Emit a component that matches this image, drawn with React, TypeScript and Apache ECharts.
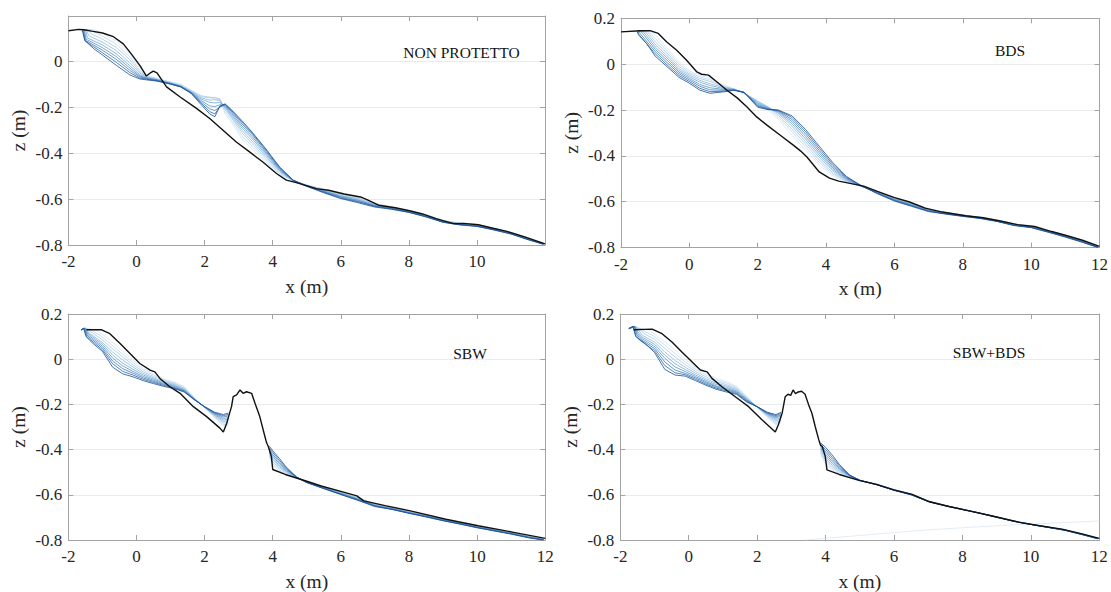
import React, { useEffect, useRef } from "react";
import * as echarts from "echarts";

const SERIF = "Liberation Serif";
const AXIS_COLOR = "#a3a3a3";
const LABEL_COLOR = "#262626";
const GRID_COLOR = "#ebebeb";
const BLACK = "#111111";
const BLUE_SHADES = ["#d3e4f3", "#bdd7ee", "#a4c8e6", "#8ab7dc", "#6fa4d1", "#5590c5", "#3e7bb8", "#2a66a8", "#1a4e94"];
const FAINT = "#d9e7f5";

const PANEL_TITLES = ["NON PROTETTO", "BDS", "SBW", "SBW+BDS"];
const X_TICKS_P1 = [-2, 0, 2, 4, 6, 8, 10];
const X_TICKS = [-2, 0, 2, 4, 6, 8, 10, 12];
const Y_TICKS_P1 = [-0.8, -0.6, -0.4, -0.2, 0];
const Y_TICKS = [-0.8, -0.6, -0.4, -0.2, 0, 0.2];
const Y_MAX = [0.196, 0.2, 0.2, 0.2];

// ---------------- Panel 1: NON PROTETTO ----------------
const P1_BLACK = [
  [-2.0, 0.132], [-1.7, 0.138], [-1.55, 0.136], [-1.32, 0.13], [-1.0, 0.122], [-0.68, 0.106], [-0.39, 0.075],
  [-0.15, 0.03], [0.1, -0.02], [0.29, -0.065], [0.42, -0.05], [0.49, -0.044], [0.6, -0.051], [0.88, -0.112],
  [1.27, -0.155], [1.76, -0.206], [2.15, -0.25], [2.54, -0.301], [2.93, -0.352], [3.32, -0.395], [3.71, -0.439],
  [4.11, -0.489], [4.4, -0.518], [4.69, -0.529], [5.28, -0.555], [5.64, -0.562], [6.1, -0.578], [6.58, -0.591],
  [6.8, -0.605], [7.11, -0.627], [7.6, -0.638], [8.05, -0.652], [8.4, -0.665], [8.8, -0.685], [9.31, -0.707],
  [9.6, -0.706], [10.04, -0.712], [10.5, -0.728], [10.88, -0.741], [11.4, -0.765], [12.0, -0.795],
];
const P1_BLUE_HEADS = [
  [[-1.6, 0.136], [-1.3, 0.137], [-1.15, 0.132]],
  [[-1.6, 0.136], [-1.35, 0.136], [-1.25, 0.127]],
  [[-1.6, 0.136], [-1.42, 0.135], [-1.33, 0.118]],
  [[-1.6, 0.136], [-1.47, 0.134], [-1.4, 0.11]],
  [[-1.6, 0.136], [-1.5, 0.133], [-1.44, 0.1]],
  [[-1.6, 0.135], [-1.53, 0.132], [-1.48, 0.095]],
  [[-1.6, 0.134], [-1.55, 0.13], [-1.5, 0.09]],
  [[-1.6, 0.133], [-1.57, 0.128], [-1.52, 0.088]],
  [[-1.6, 0.132], [-1.58, 0.125], [-1.52, 0.09], [-1.27, 0.055]],
];
const P1_BLUE_X = [-1.0, -0.6, -0.2, 0.1, 0.3, 0.6, 1.0, 1.3, 1.6, 1.9, 2.15, 2.3, 2.45, 2.6, 2.8, 3.1, 3.4, 3.8, 4.2, 4.6, 5.0,
  5.5, 6.0, 6.5, 7.0, 7.5, 8.0, 8.5, 9.0, 9.5, 10.0, 10.5, 11.0, 11.5, 11.95];
const P1_BLUE_Z = [
  [0.12, 0.088, 0.03, -0.03, -0.062, -0.075, -0.09, -0.1, -0.125, -0.15, -0.158, -0.165, -0.17, -0.23, -0.27, -0.338, -0.385, -0.44, -0.492, -0.522, -0.538,
    -0.556, -0.574, -0.59, -0.618, -0.634, -0.648, -0.668, -0.692, -0.704, -0.71, -0.726, -0.744, -0.767, -0.791],
  [0.108, 0.074, 0.018, -0.04, -0.066, -0.077, -0.092, -0.103, -0.128, -0.152, -0.156, -0.16, -0.168, -0.22, -0.26, -0.325, -0.372, -0.432, -0.488, -0.521, -0.539,
    -0.558, -0.578, -0.594, -0.62, -0.634, -0.651, -0.669, -0.694, -0.705, -0.712, -0.727, -0.746, -0.769, -0.792],
  [0.095, 0.06, 0.006, -0.047, -0.069, -0.078, -0.094, -0.106, -0.13, -0.155, -0.16, -0.158, -0.165, -0.21, -0.25, -0.312, -0.36, -0.423, -0.483, -0.52, -0.54,
    -0.561, -0.58, -0.597, -0.623, -0.637, -0.652, -0.672, -0.695, -0.707, -0.712, -0.729, -0.746, -0.771, -0.793],
  [0.082, 0.046, -0.008, -0.053, -0.071, -0.08, -0.095, -0.108, -0.133, -0.16, -0.17, -0.168, -0.172, -0.203, -0.243, -0.302, -0.349, -0.415, -0.479, -0.52, -0.541,
    -0.563, -0.584, -0.6, -0.624, -0.637, -0.654, -0.672, -0.697, -0.707, -0.715, -0.729, -0.748, -0.772, -0.794],
  [0.07, 0.032, -0.02, -0.06, -0.073, -0.081, -0.097, -0.109, -0.135, -0.165, -0.18, -0.182, -0.18, -0.198, -0.236, -0.292, -0.338, -0.407, -0.475, -0.52, -0.542,
    -0.565, -0.586, -0.604, -0.627, -0.639, -0.654, -0.674, -0.697, -0.709, -0.715, -0.731, -0.748, -0.773, -0.795],
  [0.058, 0.02, -0.03, -0.065, -0.075, -0.083, -0.098, -0.11, -0.136, -0.172, -0.195, -0.198, -0.19, -0.194, -0.229, -0.283, -0.329, -0.4, -0.471, -0.519, -0.542,
    -0.566, -0.59, -0.606, -0.628, -0.64, -0.656, -0.674, -0.699, -0.709, -0.717, -0.731, -0.75, -0.774, -0.795],
  [0.047, 0.008, -0.04, -0.069, -0.077, -0.084, -0.099, -0.111, -0.137, -0.178, -0.208, -0.215, -0.2, -0.19, -0.222, -0.274, -0.32, -0.393, -0.467, -0.519, -0.543,
    -0.569, -0.592, -0.61, -0.631, -0.642, -0.656, -0.676, -0.699, -0.711, -0.717, -0.733, -0.75, -0.775, -0.796],
  [0.036, -0.005, -0.05, -0.074, -0.079, -0.086, -0.1, -0.112, -0.139, -0.184, -0.22, -0.23, -0.198, -0.188, -0.217, -0.266, -0.314, -0.387, -0.463, -0.518, -0.544,
    -0.57, -0.596, -0.612, -0.632, -0.643, -0.658, -0.676, -0.701, -0.711, -0.719, -0.733, -0.752, -0.776, -0.796],
  [0.026, -0.018, -0.06, -0.078, -0.082, -0.087, -0.1, -0.113, -0.14, -0.19, -0.23, -0.242, -0.195, -0.186, -0.213, -0.26, -0.31, -0.382, -0.46, -0.518, -0.545,
    -0.573, -0.598, -0.616, -0.635, -0.645, -0.658, -0.678, -0.701, -0.713, -0.719, -0.735, -0.752, -0.777, -0.797],
];

// ---------------- Panel 2: BDS ----------------
const P2_BLACK = [
  [-2.0, 0.141], [-1.44, 0.146], [-1.15, 0.146], [-0.91, 0.134], [-0.66, 0.097], [-0.37, 0.061], [-0.08, 0.017],
  [0.22, -0.034], [0.36, -0.044], [0.56, -0.048], [0.8, -0.077], [1.1, -0.114], [1.39, -0.146], [1.68, -0.186],
  [1.97, -0.23], [2.27, -0.266], [2.66, -0.31], [3.05, -0.354], [3.25, -0.378], [3.44, -0.405], [3.8, -0.47],
  [4.1, -0.497], [4.37, -0.51], [5.1, -0.532], [5.5, -0.555], [6.0, -0.582], [6.42, -0.6], [6.9, -0.628],
  [7.4, -0.645], [8.09, -0.661], [8.6, -0.67], [9.1, -0.684], [9.6, -0.7], [10.1, -0.708], [10.6, -0.73],
  [11.0, -0.746], [11.5, -0.768], [12.0, -0.795],
];
const P2_BLUE_HEADS = [
  [[-1.5, 0.146], [-1.15, 0.146]],
  [[-1.5, 0.146], [-1.2, 0.146]],
  [[-1.5, 0.146], [-1.25, 0.145]],
  [[-1.5, 0.146], [-1.3, 0.144]],
  [[-1.5, 0.146], [-1.35, 0.142]],
  [[-1.5, 0.145], [-1.4, 0.14]],
  [[-1.5, 0.144], [-1.45, 0.135]],
  [[-1.52, 0.143], [-1.48, 0.13]],
  [[-1.52, 0.142], [-1.49, 0.128], [-1.25, 0.09]],
];
const P2_BLUE_X = [-1.0, -0.6, -0.3, 0.0, 0.3, 0.6, 1.0, 1.3, 1.6, 2.0, 2.3, 2.6, 3.0, 3.4, 3.8, 4.2, 4.6, 5.0,
  5.5, 6.0, 6.5, 7.0, 7.5, 8.0, 8.5, 9.0, 9.5, 10.0, 10.5, 11.0, 11.5, 11.95];
const P2_BLUE_Z = [
  [0.128, 0.06, 0.01, -0.03, -0.048, -0.062, -0.09, -0.108, -0.13, -0.168, -0.2, -0.24, -0.31, -0.375, -0.44, -0.487, -0.515, -0.532,
    -0.553, -0.58, -0.603, -0.63, -0.646, -0.658, -0.667, -0.68, -0.696, -0.706, -0.725, -0.745, -0.768, -0.794],
  [0.112, 0.05, 0.0, -0.036, -0.055, -0.068, -0.094, -0.108, -0.128, -0.162, -0.192, -0.23, -0.295, -0.362, -0.428, -0.48, -0.513, -0.532,
    -0.555, -0.583, -0.605, -0.632, -0.647, -0.659, -0.668, -0.681, -0.697, -0.707, -0.726, -0.747, -0.77, -0.795],
  [0.098, 0.04, -0.01, -0.042, -0.062, -0.075, -0.098, -0.108, -0.126, -0.16, -0.186, -0.222, -0.283, -0.35, -0.418, -0.474, -0.51, -0.531,
    -0.556, -0.585, -0.607, -0.633, -0.648, -0.659, -0.669, -0.682, -0.698, -0.709, -0.727, -0.748, -0.771, -0.796],
  [0.086, 0.03, -0.02, -0.048, -0.07, -0.085, -0.102, -0.109, -0.125, -0.165, -0.186, -0.215, -0.27, -0.338, -0.407, -0.466, -0.507, -0.531,
    -0.558, -0.587, -0.61, -0.635, -0.649, -0.66, -0.669, -0.682, -0.699, -0.709, -0.728, -0.749, -0.772, -0.797],
  [0.075, 0.02, -0.028, -0.055, -0.078, -0.093, -0.106, -0.11, -0.124, -0.17, -0.19, -0.21, -0.26, -0.326, -0.397, -0.46, -0.504, -0.53,
    -0.559, -0.589, -0.612, -0.637, -0.65, -0.661, -0.67, -0.683, -0.7, -0.71, -0.729, -0.75, -0.773, -0.797],
  [0.065, 0.01, -0.035, -0.062, -0.088, -0.103, -0.11, -0.111, -0.123, -0.175, -0.193, -0.206, -0.25, -0.315, -0.387, -0.453, -0.5, -0.53,
    -0.56, -0.591, -0.614, -0.638, -0.651, -0.661, -0.671, -0.684, -0.701, -0.711, -0.73, -0.751, -0.774, -0.798],
  [0.055, 0.0, -0.042, -0.069, -0.096, -0.112, -0.114, -0.112, -0.123, -0.18, -0.195, -0.203, -0.241, -0.304, -0.377, -0.446, -0.497, -0.529,
    -0.562, -0.593, -0.616, -0.64, -0.652, -0.662, -0.671, -0.685, -0.702, -0.711, -0.731, -0.752, -0.775, -0.798],
  [0.045, -0.01, -0.05, -0.076, -0.105, -0.12, -0.118, -0.113, -0.122, -0.184, -0.197, -0.201, -0.232, -0.294, -0.367, -0.438, -0.493, -0.528,
    -0.563, -0.595, -0.618, -0.641, -0.653, -0.663, -0.672, -0.685, -0.703, -0.712, -0.732, -0.753, -0.776, -0.799],
  [0.035, -0.018, -0.058, -0.083, -0.113, -0.127, -0.121, -0.114, -0.123, -0.188, -0.198, -0.2, -0.225, -0.285, -0.358, -0.43, -0.49, -0.527,
    -0.565, -0.597, -0.62, -0.643, -0.654, -0.664, -0.673, -0.686, -0.704, -0.713, -0.733, -0.754, -0.777, -0.799],
];

// ---------------- Panel 3: SBW ----------------
const P3_BLACK = [
  [-1.47, 0.13], [-1.02, 0.13], [-0.78, 0.113], [-0.48, 0.069], [-0.19, 0.025], [0.1, -0.019], [0.4, -0.048],
  [0.54, -0.056], [0.69, -0.085], [0.98, -0.122], [1.28, -0.151], [1.67, -0.21], [2.06, -0.254], [2.45, -0.305],
  [2.55, -0.322], [2.65, -0.283], [2.79, -0.21], [2.84, -0.166], [2.94, -0.158], [3.04, -0.136], [3.13, -0.151],
  [3.23, -0.144], [3.38, -0.151], [3.48, -0.195], [3.62, -0.254], [3.77, -0.342], [3.82, -0.37], [3.87, -0.386],
  [3.96, -0.43], [4.0, -0.488], [4.37, -0.51], [5.0, -0.54], [5.42, -0.561], [6.0, -0.585], [6.47, -0.605],
  [6.67, -0.627], [7.3, -0.648], [8.04, -0.671], [9.08, -0.708], [10.03, -0.737], [11.07, -0.766], [12.0, -0.793],
];
const P3_BLUE_HEADS = [
  [[-1.62, 0.13], [-1.45, 0.136], [-1.2, 0.13]],
  [[-1.62, 0.13], [-1.47, 0.136], [-1.28, 0.125]],
  [[-1.62, 0.13], [-1.48, 0.137], [-1.33, 0.12]],
  [[-1.62, 0.13], [-1.5, 0.137], [-1.38, 0.115]],
  [[-1.62, 0.13], [-1.5, 0.138], [-1.4, 0.112]],
  [[-1.62, 0.13], [-1.52, 0.138], [-1.42, 0.108]],
  [[-1.62, 0.13], [-1.53, 0.138], [-1.44, 0.104]],
  [[-1.62, 0.13], [-1.54, 0.137], [-1.46, 0.1]],
  [[-1.62, 0.13], [-1.55, 0.137], [-1.48, 0.1], [-1.27, 0.069]],
];
const P3_LEFT_X = [-1.0, -0.7, -0.4, -0.1, 0.2, 0.5, 0.8, 1.1, 1.4, 1.7, 2.0, 2.3, 2.55, 2.7];
const P3_LEFT_Z = [
  [0.11, 0.075, 0.035, -0.005, -0.04, -0.065, -0.088, -0.1, -0.12, -0.17, -0.215, -0.26, -0.295, -0.29],
  [0.098, 0.06, 0.022, -0.015, -0.048, -0.071, -0.092, -0.104, -0.125, -0.172, -0.214, -0.256, -0.29, -0.285],
  [0.086, 0.046, 0.01, -0.025, -0.056, -0.077, -0.096, -0.108, -0.128, -0.174, -0.213, -0.252, -0.283, -0.28],
  [0.074, 0.032, -0.004, -0.035, -0.063, -0.083, -0.1, -0.112, -0.132, -0.175, -0.213, -0.249, -0.276, -0.272],
  [0.066, 0.018, -0.018, -0.045, -0.07, -0.088, -0.104, -0.116, -0.135, -0.176, -0.212, -0.246, -0.27, -0.265],
  [0.058, 0.005, -0.03, -0.054, -0.077, -0.093, -0.108, -0.12, -0.138, -0.177, -0.212, -0.243, -0.263, -0.258],
  [0.05, -0.008, -0.042, -0.062, -0.083, -0.098, -0.112, -0.124, -0.14, -0.178, -0.211, -0.24, -0.256, -0.25],
  [0.042, -0.02, -0.054, -0.07, -0.089, -0.103, -0.116, -0.127, -0.143, -0.179, -0.21, -0.237, -0.25, -0.244],
  [0.035, -0.035, -0.065, -0.078, -0.095, -0.108, -0.12, -0.13, -0.145, -0.18, -0.21, -0.235, -0.245, -0.238],
];
const P3_RIGHT_X = [3.9, 4.0, 4.2, 4.4, 4.7, 5.0, 5.5, 6.0, 6.5, 7.0, 7.5, 8.0, 8.5, 9.0, 9.5, 10.0, 10.5, 11.0, 11.5, 11.95];
const P3_RIGHT_Z = [
  [-0.43, -0.47, -0.493, -0.507, -0.525, -0.542, -0.565, -0.587, -0.61, -0.64, -0.655, -0.672, -0.69, -0.707, -0.722, -0.738, -0.752, -0.766, -0.782, -0.796],
  [-0.425, -0.463, -0.488, -0.503, -0.525, -0.543, -0.566, -0.589, -0.612, -0.642, -0.657, -0.674, -0.691, -0.708, -0.723, -0.739, -0.753, -0.767, -0.783, -0.797],
  [-0.42, -0.455, -0.482, -0.5, -0.524, -0.543, -0.567, -0.59, -0.614, -0.643, -0.658, -0.675, -0.692, -0.709, -0.724, -0.74, -0.754, -0.768, -0.784, -0.797],
  [-0.415, -0.447, -0.476, -0.497, -0.524, -0.544, -0.568, -0.592, -0.616, -0.645, -0.66, -0.677, -0.693, -0.71, -0.725, -0.741, -0.755, -0.769, -0.785, -0.798],
  [-0.41, -0.438, -0.47, -0.494, -0.523, -0.544, -0.569, -0.593, -0.618, -0.646, -0.661, -0.678, -0.694, -0.711, -0.726, -0.742, -0.756, -0.77, -0.786, -0.798],
  [-0.405, -0.43, -0.463, -0.49, -0.523, -0.545, -0.57, -0.595, -0.62, -0.648, -0.662, -0.679, -0.695, -0.712, -0.727, -0.743, -0.757, -0.771, -0.787, -0.799],
  [-0.4, -0.422, -0.456, -0.486, -0.522, -0.545, -0.571, -0.596, -0.621, -0.649, -0.663, -0.68, -0.696, -0.713, -0.728, -0.744, -0.758, -0.772, -0.788, -0.799],
  [-0.393, -0.413, -0.448, -0.482, -0.522, -0.546, -0.572, -0.598, -0.623, -0.65, -0.664, -0.681, -0.697, -0.714, -0.729, -0.745, -0.759, -0.773, -0.789, -0.8],
  [-0.385, -0.405, -0.44, -0.478, -0.521, -0.546, -0.573, -0.599, -0.625, -0.652, -0.665, -0.682, -0.698, -0.715, -0.73, -0.746, -0.76, -0.774, -0.79, -0.8],
];

// ---------------- Panel 4: SBW+BDS ----------------
const P4_BLACK = [
  [-1.61, 0.13], [-1.3, 0.132], [-1.07, 0.133], [-0.78, 0.113], [-0.49, 0.076], [-0.2, 0.032], [0.1, -0.012],
  [0.34, -0.048], [0.54, -0.056], [0.68, -0.085], [0.97, -0.122], [1.36, -0.166], [1.75, -0.21], [2.14, -0.268],
  [2.53, -0.322], [2.62, -0.29], [2.73, -0.239], [2.82, -0.166], [2.9, -0.155], [2.98, -0.16], [3.05, -0.136],
  [3.12, -0.152], [3.2, -0.145], [3.3, -0.142], [3.4, -0.155], [3.5, -0.2], [3.6, -0.239], [3.7, -0.3],
  [3.8, -0.356], [3.85, -0.38], [3.9, -0.385], [3.99, -0.43], [4.04, -0.49], [4.4, -0.51], [5.0, -0.537],
  [5.49, -0.554], [6.0, -0.578], [6.53, -0.598], [7.06, -0.632], [7.6, -0.652], [8.2, -0.671], [8.9, -0.695],
  [9.66, -0.722], [10.3, -0.738], [10.91, -0.752], [11.5, -0.773], [12.0, -0.793],
];
const P4_BLUE_HEADS = [
  [[-1.75, 0.135], [-1.55, 0.142], [-1.3, 0.132], [-1.15, 0.128]],
  [[-1.75, 0.135], [-1.55, 0.143], [-1.35, 0.13], [-1.25, 0.12]],
  [[-1.75, 0.135], [-1.55, 0.144], [-1.4, 0.128], [-1.3, 0.113]],
  [[-1.75, 0.135], [-1.56, 0.145], [-1.45, 0.125], [-1.35, 0.105]],
  [[-1.75, 0.135], [-1.57, 0.145], [-1.48, 0.12], [-1.38, 0.1]],
  [[-1.75, 0.135], [-1.58, 0.146], [-1.5, 0.115], [-1.4, 0.095]],
  [[-1.75, 0.136], [-1.6, 0.146], [-1.52, 0.11], [-1.42, 0.09]],
  [[-1.75, 0.136], [-1.62, 0.145], [-1.54, 0.105], [-1.44, 0.085]],
  [[-1.75, 0.136], [-1.63, 0.145], [-1.55, 0.1], [-1.27, 0.069]],
];
const P4_LEFT_X = [-1.0, -0.7, -0.4, -0.1, 0.2, 0.5, 0.8, 1.1, 1.4, 1.7, 2.0, 2.3, 2.55, 2.7];
const P4_LEFT_Z = [
  [0.11, 0.078, 0.04, 0.0, -0.035, -0.062, -0.085, -0.098, -0.12, -0.165, -0.212, -0.258, -0.29, -0.28],
  [0.1, 0.063, 0.025, -0.012, -0.045, -0.07, -0.092, -0.105, -0.125, -0.168, -0.212, -0.254, -0.285, -0.276],
  [0.088, 0.048, 0.01, -0.024, -0.054, -0.078, -0.099, -0.112, -0.13, -0.172, -0.212, -0.25, -0.279, -0.27],
  [0.076, 0.032, -0.006, -0.036, -0.062, -0.086, -0.106, -0.118, -0.135, -0.175, -0.212, -0.247, -0.272, -0.264],
  [0.066, 0.018, -0.02, -0.046, -0.07, -0.093, -0.112, -0.124, -0.14, -0.178, -0.211, -0.244, -0.266, -0.258],
  [0.056, 0.004, -0.034, -0.055, -0.077, -0.099, -0.118, -0.13, -0.144, -0.181, -0.211, -0.241, -0.26, -0.251],
  [0.047, -0.012, -0.048, -0.063, -0.083, -0.104, -0.123, -0.135, -0.148, -0.184, -0.21, -0.239, -0.255, -0.246],
  [0.038, -0.028, -0.06, -0.069, -0.089, -0.11, -0.128, -0.14, -0.152, -0.187, -0.21, -0.237, -0.25, -0.24],
  [0.03, -0.045, -0.07, -0.075, -0.095, -0.115, -0.133, -0.145, -0.156, -0.19, -0.21, -0.235, -0.245, -0.235],
];
const P4_RIGHT_X = [3.85, 4.0, 4.2, 4.4, 4.7, 5.0, 5.5, 6.0, 6.5, 7.0, 7.5, 8.0, 8.5, 9.0, 9.5, 10.0, 10.5, 11.0, 11.5, 11.95];
const P4_RIGHT_Z = [
  [-0.42, -0.465, -0.49, -0.505, -0.52, -0.535, -0.553, -0.577, -0.596, -0.626, -0.647, -0.664, -0.68, -0.697, -0.715, -0.729, -0.742, -0.755, -0.774, -0.792],
  [-0.413, -0.456, -0.484, -0.501, -0.519, -0.535, -0.553, -0.577, -0.597, -0.627, -0.647, -0.664, -0.68, -0.697, -0.715, -0.73, -0.742, -0.755, -0.774, -0.792],
  [-0.406, -0.447, -0.477, -0.497, -0.518, -0.535, -0.554, -0.578, -0.597, -0.627, -0.647, -0.664, -0.68, -0.698, -0.716, -0.73, -0.743, -0.756, -0.775, -0.793],
  [-0.399, -0.438, -0.47, -0.492, -0.517, -0.536, -0.554, -0.578, -0.598, -0.628, -0.647, -0.664, -0.681, -0.698, -0.716, -0.73, -0.743, -0.756, -0.775, -0.793],
  [-0.392, -0.429, -0.462, -0.487, -0.516, -0.536, -0.555, -0.579, -0.598, -0.628, -0.648, -0.665, -0.681, -0.698, -0.716, -0.731, -0.743, -0.756, -0.775, -0.793],
  [-0.386, -0.42, -0.454, -0.482, -0.515, -0.536, -0.555, -0.579, -0.599, -0.629, -0.648, -0.665, -0.681, -0.699, -0.717, -0.731, -0.744, -0.757, -0.776, -0.794],
  [-0.381, -0.41, -0.445, -0.477, -0.514, -0.536, -0.555, -0.58, -0.599, -0.629, -0.648, -0.665, -0.681, -0.699, -0.717, -0.731, -0.744, -0.757, -0.776, -0.794],
  [-0.376, -0.4, -0.435, -0.471, -0.513, -0.536, -0.556, -0.58, -0.6, -0.63, -0.648, -0.665, -0.681, -0.699, -0.717, -0.731, -0.744, -0.757, -0.776, -0.794],
  [-0.37, -0.39, -0.425, -0.465, -0.512, -0.536, -0.556, -0.58, -0.6, -0.63, -0.648, -0.665, -0.681, -0.699, -0.717, -0.731, -0.744, -0.757, -0.776, -0.794],
];
const P4_FAINT = [[3.4, -0.8], [5.0, -0.78], [7.0, -0.755], [9.0, -0.737], [10.5, -0.726], [12.0, -0.716]];

// ---------------- layout ----------------
const GRIDS = [
  { left: 68.5, top: 16, width: 476.5, height: 229 },
  { left: 621, top: 18.3, width: 479, height: 229.3 },
  { left: 68.3, top: 314, width: 477, height: 227 },
  { left: 620.3, top: 314, width: 479, height: 227 },
];
const TITLE_POS = [[461.5, 52], [1010, 50], [470, 353], [989, 352]];

function zip(xs: number[], zs: number[]) {
  return xs.map((x, k) => [x, zs[k]]);
}

function buildOption() {
  const grid: any[] = [];
  const xAxis: any[] = [];
  const yAxis: any[] = [];
  const series: any[] = [];
  const graphic: any[] = [];

  const axisLine = { show: true, onZero: false, lineStyle: { color: AXIS_COLOR, width: 1 } };
  const axisTick = { show: true, inside: true, length: 5, lineStyle: { color: AXIS_COLOR, width: 1 } };
  const nameStyle = { color: LABEL_COLOR, fontSize: 19.5, fontFamily: SERIF };

  GRIDS.forEach((g, p) => {
    grid.push({ ...g, show: false });
    const xt = p === 0 ? X_TICKS_P1 : X_TICKS;
    const yt = p === 0 ? Y_TICKS_P1 : Y_TICKS;
    xAxis.push({
      type: "value", gridIndex: p, min: -2, max: 12, interval: 2, position: "bottom",
      axisLine, axisTick,
      axisLabel: {
        color: LABEL_COLOR, fontSize: 17, fontFamily: SERIF, margin: 8,
        formatter: (v: number) => (xt.some((t) => Math.abs(t - v) < 1e-6) ? String(Math.round(v)) : ""),
      },
      splitLine: { show: false },
      name: "x (m)", nameLocation: "middle", nameGap: 31, nameTextStyle: nameStyle,
    });
    xAxis.push({
      type: "value", gridIndex: p, min: -2, max: 12, interval: 2, position: "top",
      axisLine, axisTick, axisLabel: { show: false }, splitLine: { show: false },
    });
    yAxis.push({
      type: "value", gridIndex: p, min: -0.8, max: Y_MAX[p], interval: 0.2, position: "left",
      axisLine, axisTick,
      axisLabel: {
        color: LABEL_COLOR, fontSize: 17, fontFamily: SERIF, margin: 6,
        formatter: (v: number) => {
          const t = yt.find((t) => Math.abs(t - v) < 1e-6);
          return t === undefined ? "" : String(Number(t.toFixed(1)));
        },
      },
      splitLine: { show: true, lineStyle: { color: GRID_COLOR, width: 1 } },
      name: "z (m)", nameLocation: "middle", nameGap: 40, nameTextStyle: nameStyle,
    });
    yAxis.push({
      type: "value", gridIndex: p, min: -0.8, max: Y_MAX[p], interval: 0.2, position: "right",
      axisLine, axisTick, axisLabel: { show: false }, splitLine: { show: false },
    });
    graphic.push({
      type: "text", x: TITLE_POS[p][0], y: TITLE_POS[p][1], silent: true,
      style: { text: PANEL_TITLES[p], fill: "#111", font: `15.5px ${SERIF}`, align: "center", verticalAlign: "middle" },
    });
  });

  const addLine = (p: number, data: any[], color: string, width: number) => {
    series.push({
      type: "line", xAxisIndex: p * 2, yAxisIndex: p * 2, data, symbol: "none", showSymbol: false,
      lineStyle: { color, width }, silent: true, clip: true,
    });
  };

  // panel 1 & 2: continuous blue profiles
  [[P1_BLUE_HEADS, P1_BLUE_X, P1_BLUE_Z], [P2_BLUE_HEADS, P2_BLUE_X, P2_BLUE_Z]].forEach(([heads, xs, zs]: any, p) => {
    zs.forEach((row: number[], i: number) => {
      addLine(p, heads[i].concat(zip(xs, row)), BLUE_SHADES[i], 0.8);
    });
  });
  // panel 3 & 4: profiles broken by the structure
  [
    [P3_BLUE_HEADS, P3_LEFT_X, P3_LEFT_Z, P3_RIGHT_X, P3_RIGHT_Z],
    [P4_BLUE_HEADS, P4_LEFT_X, P4_LEFT_Z, P4_RIGHT_X, P4_RIGHT_Z],
  ].forEach(([heads, lx, lz, rx, rz]: any, k) => {
    const p = k + 2;
    if (p === 3) addLine(p, P4_FAINT, FAINT, 0.8);
    lz.forEach((row: number[], i: number) => {
      addLine(p, heads[i].concat(zip(lx, row)), BLUE_SHADES[i], 0.8);
      addLine(p, zip(rx, rz[i]), BLUE_SHADES[i], 0.8);
    });
  });

  [P1_BLACK, P2_BLACK, P3_BLACK, P4_BLACK].forEach((d, p) => addLine(p, d, BLACK, 1.4));

  return {
    animation: false,
    backgroundColor: "#ffffff",
    textStyle: { fontFamily: SERIF },
    grid, xAxis, yAxis, series, graphic,
  };
}

export default function App() {
  const ref = useRef<HTMLDivElement>(null);
  useEffect(() => {
    if (!ref.current) return;
    const chart = echarts.init(ref.current, null, { renderer: "svg" });
    chart.setOption(buildOption());
    return () => chart.dispose();
  }, []);
  return (
    <div
      ref={ref}
      style={{ position: "absolute", left: 0, top: 0, width: 1111, height: 592, background: "#fff" }}
    />
  );
}
